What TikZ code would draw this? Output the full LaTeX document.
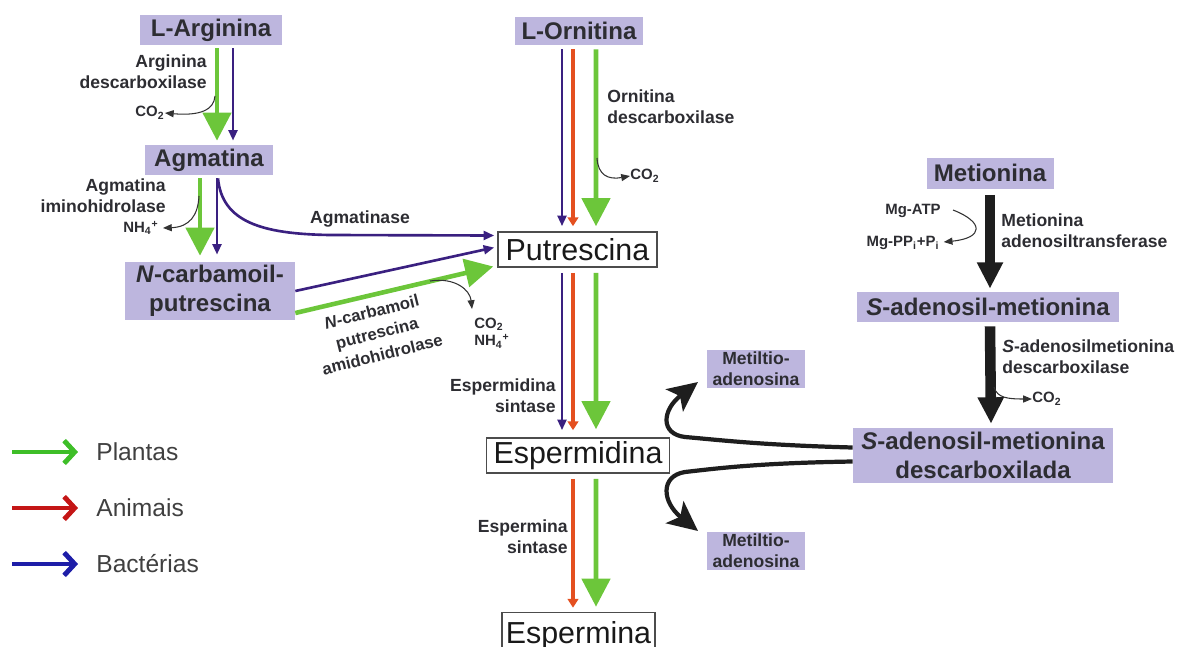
\documentclass[tikz,border=0pt]{standalone}
\usepackage{fontspec}
\setmainfont{Liberation Sans}
\usetikzlibrary{arrows.meta,calc}
\definecolor{lav}{RGB}{189,182,222}
\definecolor{grn}{RGB}{108,198,58}
\definecolor{redor}{RGB}{228,80,32}
\definecolor{indg}{RGB}{58,32,128}
\definecolor{blk}{RGB}{30,30,30}
\definecolor{txtd}{RGB}{45,45,50}
\definecolor{lgrn}{RGB}{62,190,40}
\definecolor{lred}{RGB}{196,22,22}
\definecolor{lblu}{RGB}{30,30,168}
\begin{document}
\begin{tikzpicture}[x=0.02cm,y=-0.02cm,
  lavbox/.style={fill=lav, inner sep=0pt, text=txtd, align=center, font=\bfseries\fontsize{13.7}{16.5}\selectfont},
  wbox/.style={draw=black!70, line width=0.9pt, fill=white, inner sep=0pt, text=black!90, font=\fontsize{17.3}{20}\selectfont},
  lbl/.style={font=\bfseries\fontsize{10}{12}\selectfont, text=txtd, inner sep=0pt},
  sml/.style={font=\bfseries\fontsize{8.5}{10}\selectfont, text=txtd, inner sep=0pt},
  garr/.style={draw=grn, line width=2.6pt, -{Triangle[width=16pt,length=16pt]}},
  barr/.style={draw=indg, line width=1.5pt, -{Triangle[width=5pt,length=6pt]}},
  rarr/.style={draw=redor, line width=2.3pt, -{Triangle[width=6pt,length=5pt]}},
  karr/.style={draw=blk, line width=6pt, -{Triangle[width=14pt,length=15pt]}},
  tarr/.style={draw=black!80, line width=0.6pt, -{Triangle[width=4pt,length=5pt]}},
  marr/.style={draw=blk, line width=2.4pt, -{Stealth[width=16pt,length=17pt,inset=4pt]}},
  legarr/.style={line width=2.8pt, -{Straight Barb[length=6pt,width=13pt]}},
  legtxt/.style={anchor=west, inner sep=0pt, text=black!75, font=\fontsize{14}{16}\selectfont}]
\useasboundingbox (0,0) rectangle (1186,646);

% ---- nodes ----
\node[lavbox, minimum width=2.84cm, minimum height=0.6cm] (larg) at (211,30) {L-Arginina};
\node[lavbox, minimum width=2.56cm, minimum height=0.6cm] (agm) at (209,160) {Agmatina};
\node[lavbox, minimum width=3.4cm, minimum height=1.16cm] (ncarb) at (210,291) {\textit{N}-carbamoil-\\putrescina};
\node[lavbox, minimum width=2.56cm, minimum height=0.56cm] (lorn) at (579,31) {L-Ornitina};
\node[wbox, minimum width=3.18cm, minimum height=0.7cm] (put) at (577.5,249.5) {Putrescina};
\node[wbox, minimum width=3.66cm, minimum height=0.7cm] (esp) at (578,455.5) {Espermidina};
\node[wbox, minimum width=3.06cm, minimum height=0.94cm] (espm) at (578.5,636) {Espermina};
\node[lavbox, minimum width=2.54cm, minimum height=0.62cm] (met) at (990,173) {Metionina};
\node[lavbox, minimum width=5.26cm, minimum height=0.6cm] (sam) at (988,307) {\textit{S}-adenosil-metionina};
\node[lavbox, minimum width=5.2cm, minimum height=1.1cm] (dsam) at (983,455.5) {\textit{S}-adenosil-metionina\\descarboxilada};
\node[lavbox, minimum width=1.96cm, minimum height=0.76cm, font=\bfseries\fontsize{10}{12}\selectfont] (mta1) at (756,369) {Metiltio-\\adenosina};
\node[lavbox, minimum width=1.96cm, minimum height=0.76cm, font=\bfseries\fontsize{10}{12}\selectfont] (mta2) at (756,551) {Metiltio-\\adenosina};

% ---- L-Arginina -> Agmatina ----
\draw[garr] ($(larg.south)+(6,3)$) -- ($(agm.north)+(8,-4)$);
\draw[barr] ($(larg.south)+(22,3)$) -- ($(agm.north)+(24,-4)$);
\node[lbl, anchor=east, align=right] (argdl) at (207,72) {Arginina\\descarboxilase};
\node[sml] (co2a) at (150,113) {CO\textsubscript{2}};
\draw[tarr] (215,96) .. controls (214,110) and (200,116) .. (co2a.east);

% ---- Agmatina -> N-carbamoil ----
\draw[garr] ($(agm.south)+(-9,3)$) -- ($(ncarb.north)+(-10,-6)$);
\draw[barr] ($(agm.south)+(8,3)$) -- ($(ncarb.north)+(7,-7)$);
\node[lbl, anchor=east, align=right] (agmil) at (166,196) {Agmatina\\iminohidrolase};
\node[sml] (nh4a) at (141,228) {NH\textsubscript{4}\textsuperscript{+}};
\draw[tarr] (199,196) .. controls (198,215) and (190,227) .. ($(nh4a.east)+(4,0)$);

% ---- Agmatinase ----
\draw[barr] ($(agm.south)+(9,3)$) .. controls (222,222) and (262,234) .. (330,235) -- ($(put.west)+(-3,-14)$);
\node[lbl] (agmase) at (360,219) {Agmatinase};

% ---- N-carbamoil -> Putrescina ----
\draw[barr] (ncarb.east) -- ($(put.west)+(-3,-2)$);
\draw[garr] ($(ncarb.east)+(0,22)$) -- ($(put.west)+(-4,17)$);
\node[lbl, align=center, rotate=14, font=\bfseries\fontsize{9.5}{12.5}\selectfont] (amido) at (377,333) {\textit{N}-carbamoil\\putrescina\\amidohidrolase};
\node[sml, align=left, anchor=west] (co2b) at (474,333) {CO\textsubscript{2}\\NH\textsubscript{4}\textsuperscript{+}};
\draw[tarr] (430,281) .. controls (455,277) and (470,290) .. (472,309);

% ---- L-Ornitina -> Putrescina ----
\draw[barr] ($(lorn.south)+(-17,4)$) -- ($(put.north)+(-15.5,-5)$);
\draw[rarr] ($(lorn.south)+(-6,4)$) -- ($(put.north)+(-4.5,-5)$);
\draw[garr] ($(lorn.south)+(17,4)$) -- ($(put.north)+(18.5,-5)$);
\node[lbl, anchor=west, align=left] (orndl) at (607,107) {Ornitina\\descarboxilase};
\node[sml, anchor=west] (co2c) at (630,176) {CO\textsubscript{2}};
\draw[tarr] (597,158) .. controls (598,175) and (608,180) .. (co2c.west);

% ---- Putrescina -> Espermidina ----
\draw[barr] ($(put.south)+(-15.5,5)$) -- ($(esp.north)+(-16,-7)$);
\draw[rarr] ($(put.south)+(-4.5,5)$) -- ($(esp.north)+(-5,-7)$);
\draw[garr] ($(put.south)+(18.5,5)$) -- ($(esp.north)+(18,-8)$);
\node[lbl, anchor=east, align=right] (espds) at (556,396) {Espermidina\\sintase};

% ---- Espermidina -> Espermina ----
\draw[rarr] ($(esp.south)+(-5,5)$) -- ($(espm.north)+(-5.5,-4)$);
\draw[garr] ($(esp.south)+(18,5)$) -- ($(espm.north)+(17.5,-5)$);
\node[lbl, anchor=east, align=right] (espms) at (568,537) {Espermina\\sintase};

% ---- Metionina -> SAM ----
\draw[karr] ($(met.south)+(0,6)$) -- ($(sam.north)+(2,-3)$);
\node[lbl, anchor=west, align=left] (matl) at (1001,231) {Metionina\\adenosiltransferase};
\node[sml] (mgatp) at (913,211) {Mg-ATP};
\node[sml] (mgpp) at (903,243) {Mg-PP\textsubscript{i}+P\textsubscript{i}};
\draw[tarr] ($(mgatp.east)+(12,-1)$) .. controls (984,222) and (984,238) .. ($(mgpp.east)+(4,-1)$);

% ---- SAM -> dcSAM ----
\draw[karr] ($(sam.south)+(2,4)$) -- ($(dsam.north)+(8,-4)$);
\node[lbl, anchor=west, align=left] (samdl) at (1002,357) {\textit{S}-adenosilmetionina\\descarboxilase};
\node[sml, anchor=west] (co2d) at (1032,399) {CO\textsubscript{2}};
\draw[tarr] (994,387) .. controls (997,398) and (1008,399) .. (co2d.west);

% ---- dcSAM -> Metiltioadenosina ----
\draw[marr] ($(dsam.west)+(0,-8)$) .. controls (760,445) and (720,440) .. (685,437) .. controls (660,434) and (662,410) .. (698,382);
\draw[marr] ($(dsam.west)+(0,6)$) .. controls (760,463) and (720,468) .. (685,472) .. controls (660,476) and (662,502) .. (698,531);

% ---- legend ----
\coordinate (lg1a) at (12,452); \coordinate (lg1b) at (78,452);
\coordinate (lg2a) at (12,508); \coordinate (lg2b) at (78,508);
\coordinate (lg3a) at (12,564); \coordinate (lg3b) at (78,564);
\draw[legarr, draw=lgrn] (lg1a) -- (lg1b);
\draw[legarr, draw=lred] (lg2a) -- (lg2b);
\draw[legarr, draw=lblu] (lg3a) -- (lg3b);
\node[legtxt] (lt1) at (96,452) {Plantas};
\node[legtxt] (lt2) at (96,508) {Animais};
\node[legtxt] (lt3) at (96,564) {Bactérias};
\end{tikzpicture}
\end{document}
